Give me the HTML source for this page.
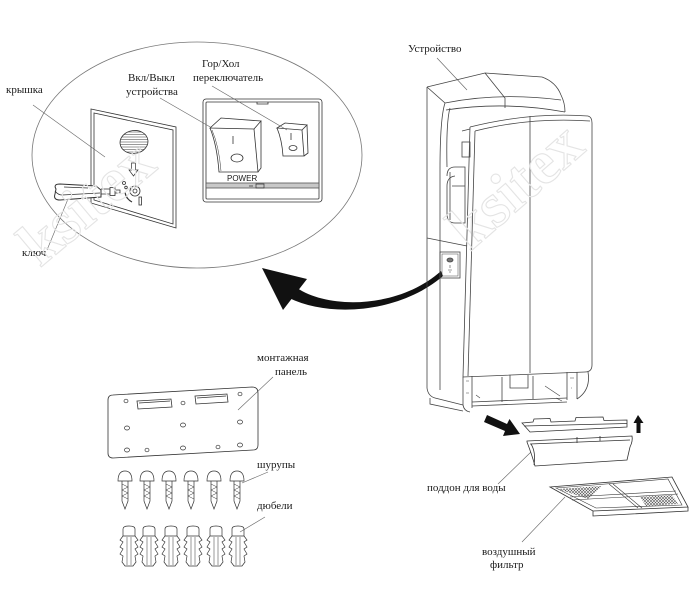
<!DOCTYPE html>
<html><head><meta charset="utf-8"><style>
html,body{margin:0;padding:0;background:#fff;width:695px;height:594px;overflow:hidden;}
svg{display:block;}
text{font-family:"Liberation Serif",serif;fill:#1a1a1a;}
</style></head><body>
<svg width="695" height="594" viewBox="0 0 695 594" xmlns="http://www.w3.org/2000/svg" overflow="hidden">
<defs>
<pattern id="hatch" width="3" height="3" patternUnits="userSpaceOnUse">
<path d="M0,0 L3,3 M3,0 L0,3" stroke="#555" stroke-width="0.6"/>
</pattern>
<clipPath id="grille"><ellipse cx="134" cy="142" rx="14" ry="11.5" transform="rotate(-8 134 142)"/></clipPath>
</defs>
<rect width="695" height="594" fill="#fff"/>

<!-- ellipse detail -->
<ellipse cx="197" cy="155" rx="165" ry="113" fill="none" stroke="#777" stroke-width="0.8"/>

<!-- cover panel -->
<g fill="none" stroke="#333" stroke-width="0.8">
<polygon points="91,109 176,127 176,228 91,203"/>
<polygon points="94,113 173,130 173,224 94,200"/>
<ellipse cx="134" cy="142" rx="14" ry="11.5" transform="rotate(-8 134 142)"/>
<g clip-path="url(#grille)" stroke-width="0.6">
<path d="M115,132 H155 M115,134.5 H155 M115,137 H155 M115,139.5 H155 M115,142 H155 M115,144.5 H155 M115,147 H155 M115,149.5 H155 M115,152 H155"/>
</g>
<path d="M131.5,163 L135.5,163 L135.5,170 L138,170 L133.5,176 L129,170 L131.5,170 Z" stroke-width="0.7"/>
<circle cx="135" cy="191" r="5"/>
<circle cx="135" cy="191" r="2"/>
<circle cx="124" cy="183" r="1.5"/>
<circle cx="126" cy="187.5" r="1.3"/>
<path d="M125,192 Q126,199 132,202" stroke-width="1.2"/>
<rect x="139" y="197" width="2.5" height="8"/>
<!-- key -->
<path d="M56,189 Q53,184 60,184 L96,186 L101,190 L101,197 L60,200 Q53,200 55,194 Z" fill="#fff" stroke-width="1"/>
<path d="M55,191 Q58,195 62,195 L100,193"/>
<path d="M64,187 L88,188"/>
<path d="M101,189 L110,189 L110,194 L101,194"/>
<rect x="110" y="187.5" width="5" height="8" fill="#fff"/>
<path d="M115,190 L120,190 L120,193 L115,193"/>
</g>

<!-- switch panel -->
<g fill="none" stroke="#333" stroke-width="0.8">
<rect x="203" y="99" width="119" height="103" rx="3"/>
<rect x="206" y="102" width="113" height="97" rx="1"/>
<path d="M257,102 L257,104 L268,104 L268,102"/>
<rect x="206" y="183" width="113" height="5" fill="#c8c8c8" stroke="#555"/>
<path d="M249,186 L253,186 M256,184 L264,184 L264,188 L256,188 Z" stroke-width="0.7"/>
<!-- big rocker -->
<path d="M210,128 L221,118 L261,121 L254,129 Z" fill="#fff"/>
<path d="M210,128 Q217,145 219,172 L258,172 L254,129"/>
<path d="M261,121 L261,168 L258,172"/>
<path d="M212,130 Q219,146 221,171" stroke-width="0.5"/>
<path d="M233,136 L233,144"/>
<ellipse cx="237" cy="158" rx="6" ry="4"/>
<!-- small rocker -->
<path d="M277,128 L285,123 L307,125 L302,130 Z" fill="#fff"/>
<path d="M277,128 Q282,140 283,156 L304,156 L302,130"/>
<path d="M307,125 L308,153 L304,156"/>
<path d="M291,133 L291,140"/>
<ellipse cx="293" cy="148" rx="4" ry="2.5"/>
</g>
<text x="227" y="181" font-size="8" style="font-family:'Liberation Sans',sans-serif">POWER</text>

<!-- leaders -->
<g stroke="#666" stroke-width="0.6" fill="none">
<path d="M33,105 L105,157"/>
<path d="M47,250 L68,199"/>
<path d="M160,98 L212,128"/>
<path d="M212,86 L287,130"/>
<path d="M437,58 L467,90"/>
<path d="M273,377 L238,410"/>
<path d="M268,472 L242,483"/>
<path d="M265,517 L240,532"/>
<path d="M498,484 L532,451"/>
<path d="M522,542 L565,497"/>
</g>

<!-- labels -->
<g font-size="11">
<text x="6" y="93">крышка</text>
<text x="22" y="256">ключ</text>
<text x="128" y="81">Вкл/Выкл</text>
<text x="126" y="95">устройства</text>
<text x="202" y="67">Гор/Хол</text>
<text x="193" y="81">переключатель</text>
<text x="408" y="52">Устройство</text>
<text x="257" y="361">монтажная</text>
<text x="275" y="375">панель</text>
<text x="257" y="468">шурупы</text>
<text x="257" y="509">дюбели</text>
<text x="427" y="491">поддон для воды</text>
<text x="482" y="555">воздушный</text>
<text x="490" y="568">фильтр</text>
</g>

<!-- big curved arrow -->
<g fill="#111">
<path d="M297,288 C330,310 400,308 441,271 L443,276 C400,313 330,318 289,298 Z"/>
<polygon points="262,268 307,279 283,310"/>
</g>

<!-- device -->
<g fill="none" stroke="#444" stroke-width="0.8">
<path d="M427,87 L427,388 Q428,396 435,398"/>
<path d="M427,87 L485,73 L542,77 Q556,82 561,95 Q565,103 565,112"/>
<path d="M485,73 L505,98 L505,108"/>
<path d="M427,87 L445,103"/>
<path d="M445,103 Q500,92 561,100"/>
<path d="M446,110 Q505,101 565,112"/>
<path d="M445,103 Q440,118 440,170 L440,390"/>
<path d="M450,108 Q446,122 447,167"/>
<path d="M455,176 Q447,177 447,186 L447,214 Q447,223 455,223 L465,223 L465,167 L455,167 Q447,167 447,176" />
<path d="M450,172 L450,220 M452,186 L465,186"/>
<rect x="462" y="142" width="8" height="15"/>
<path d="M462,131 L470,129"/>
<path d="M427,238 L467,246"/>
<rect x="440" y="252" width="20" height="26"/>
<rect x="442" y="254" width="16" height="22" stroke-width="0.5"/>
<ellipse cx="450" cy="260" rx="3" ry="2" fill="#777"/>
<path d="M450,265 L450,268 M448,270 L452,270 M449,272 L451,272" stroke-width="0.6"/>
<!-- front panel -->
<path d="M470,127 Q530,112 588,116 Q592,117 592,123 L592,365 Q592,372 585,372 L463,377 L470,127"/>
<path d="M475,131 Q530,117 590,121"/>
<path d="M475,131 L468,376"/>
<path d="M530,116 L530,373"/>
<!-- bottom -->
<path d="M463,377 L463,405 Q464,411 470,412"/>
<path d="M472,376 L472,408"/>
<path d="M472,402 L567,398 M472,406 L567,402"/>
<path d="M567,372 L567,400 M577,372 L577,399"/>
<path d="M588,372 Q591,390 577,399"/>
<path d="M510,375 L510,388 L528,388 L528,375"/>
<path d="M502,377 L502,402 M533,376 L533,399"/>
<path d="M435,398 L463,405 M430,398 L430,404 L463,411"/>
<path d="M466,381 L469,381 M466,393 L469,393 M570,378 L574,378 M571,388 L572,388" stroke-width="0.6"/>
<path d="M476,395 L480,398 M545,386 L560,396 M556,398 L562,401" stroke-width="0.6"/>
</g>

<!-- small black arrows -->
<polygon fill="#111" points="487,415 507,424 509.5,419 520,434 503,436 505,431 484,422"/>
<polygon fill="#111" points="638,415 643.5,423 640.5,423 640.5,433 636.5,433 636.5,423 633.5,423"/>

<!-- tray lid -->
<g fill="none" stroke="#333" stroke-width="0.8">
<path d="M522,423 L533,422 L534,419 L550,418.5 L551,422 L575,421 L576,417.5 L603,417 L604,420.5 L627,420 L627,427 L530,432 Z" fill="#fff"/>
<path d="M524,426 L627,423.5"/>
<!-- tray -->
<path d="M527,441 L632,436 Q633,441 630,447 L627,460 L535,466 Q532,455 527,442 Z" fill="#fff"/>
<path d="M530,444 L630,440"/>
<path d="M531,444 Q536,452 534,465"/>
<path d="M577,437 L577,443 M600,436 L600,441"/>
<!-- filter -->
<path d="M550,487 L672,477 L688,507 L593,511 Z" fill="#fff"/>
<path d="M593,511 L593,516 L688,511 L688,507"/>
<path d="M556,488 L668,479 L682,505 L596,508 Z" stroke-width="0.6"/>
<path d="M570,497 L676,491 M572,500 L678,494" stroke-width="0.6"/>
<path d="M609,484 L638,508 M613,484 L642,508" stroke-width="0.6"/>
<polygon points="558,489 602,486 588,499" fill="url(#hatch)" stroke="none"/>
<polygon points="640,497 672,495 678,504 646,506" fill="url(#hatch)" stroke="none"/>
</g>

<!-- mounting panel -->
<g fill="none" stroke="#333" stroke-width="0.8">
<path d="M113,395 L252,387 Q258,387 258,393 L258,445 Q258,450 253,450 L113,458 Q108,458 108,453 L108,400 Q108,395 113,395 Z"/>
<path d="M137,401 L171,399 L172,407 L138,409 Z"/>
<path d="M139,403 L170,401"/>
<path d="M195,396 L227,394 L228,402 L196,404 Z"/>
<path d="M197,398 L226,396"/>
<g stroke-width="0.7">
<ellipse cx="126" cy="401" rx="2" ry="1.8"/>
<ellipse cx="183" cy="403" rx="2" ry="1.8"/>
<ellipse cx="240" cy="394" rx="2" ry="1.8"/>
<ellipse cx="127" cy="428" rx="2.5" ry="2"/>
<ellipse cx="183" cy="425" rx="2.5" ry="2"/>
<ellipse cx="240" cy="422" rx="2.5" ry="2"/>
<ellipse cx="127" cy="450" rx="2.5" ry="2"/>
<ellipse cx="147" cy="450" rx="2" ry="1.8"/>
<ellipse cx="183" cy="448" rx="2.5" ry="2"/>
<ellipse cx="218" cy="447" rx="2" ry="1.8"/>
<ellipse cx="240" cy="445" rx="2.5" ry="2"/>
</g>
</g>

<!-- screws -->
<g fill="none" stroke="#333" stroke-width="0.7">
<g id="screw">
<path d="M118,481 Q118,471 125,471 Q132,471 132,481 Z"/>
<path d="M122,481 L122,501 L125,509 L128,501 L128,481"/>
<path d="M122,484 L128,487 L122,490 L128,493 L122,496 L128,499" stroke-width="0.5"/>
</g>
<use href="#screw" x="22"/>
<use href="#screw" x="44"/>
<use href="#screw" x="66"/>
<use href="#screw" x="89"/>
<use href="#screw" x="112"/>
</g>

<!-- dowels -->
<g fill="none" stroke="#333" stroke-width="0.7">
<g id="dowel">
<path d="M123,536 L123,529 Q123,526 129,526 Q135,526 135,529 L135,536 Z"/>
<path d="M123,536 L120,540 L123,542 L120,547 L123,549 L120,554 L123,556 L122,562 L125,566 L133,566 L136,562 L135,556 L138,554 L135,549 L138,547 L135,542 L138,540 L135,536"/>
<path d="M127,537 L127,565 M131,537 L131,565" stroke-width="0.5"/>
</g>
<use href="#dowel" x="20"/>
<use href="#dowel" x="42"/>
<use href="#dowel" x="64"/>
<use href="#dowel" x="87"/>
<use href="#dowel" x="109"/>
</g>

<!-- watermarks (faint, fully inside frame) -->
<g stroke="#e4e4e4" stroke-width="1.1" font-weight="bold" font-size="62">
<text x="40" y="268" transform="rotate(-40 40 268)" style="fill:none">ksitex</text>
<text x="470" y="252" transform="rotate(-41 470 252)" style="fill:none">ksitex</text>
</g>
</svg>
</body></html>
